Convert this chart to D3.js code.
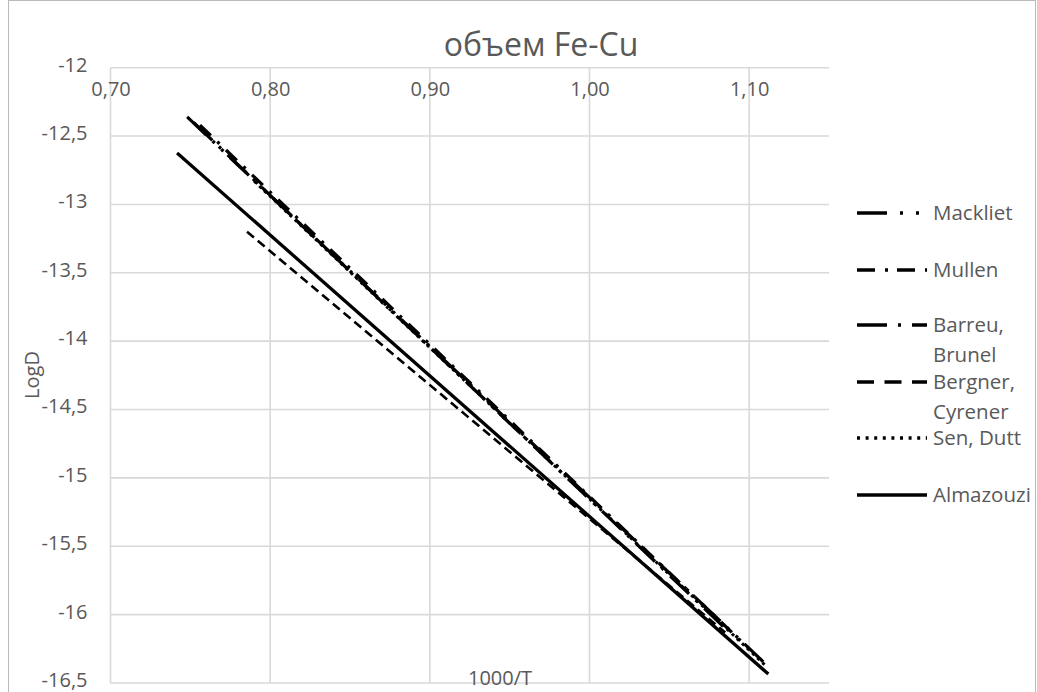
<!DOCTYPE html>
<html><head><meta charset="utf-8">
<script src="https://cdn.jsdelivr.net/npm/d3@7"></script>
<style>body{margin:0;background:#fff}svg{display:block}</style>
</head><body>
<svg id="c" width="1037" height="692"></svg>
<script>
// ---- data ----
const xTicks = [0.70, 0.80, 0.90, 1.00, 1.10];
const yTicks = [-12, -12.5, -13, -13.5, -14, -14.5, -15, -15.5, -16, -16.5];
const seriesNames = ["Mackliet", "Mullen", "Barreu, Brunel", "Bergner, Cyrener", "Sen, Dutt", "Almazouzi"];
const mackliet  = [[0.748, -12.36], [1.112, -16.38]];
const mullen    = [[0.756, -12.42], [1.100, -16.25]];
const barreu    = [[0.752, -12.40], [1.085, -16.10]];
const bergner   = [[0.7855, -13.20], [1.085, -16.13]];
const senDutt   = [[0.790, -12.83], [1.110, -16.37]];
const almazouzi = [[0.7417, -12.624], [1.112, -16.435]];
const seriesData = [mackliet, mullen, barreu, bergner, senDutt, almazouzi];

// ---- styles ----
const plotDash = ["26,9,3,9,3,9", "15,9,3,9", "26,9,3,9", "9,5", "3,4", null];
const legDash  = ["30,13,3,13,3,13", "18,10,3,9", "30,11,3,11", "17,10.5", "3,5.6", null];
const plotW = [3.2, 3.2, 3.2, 2.6, 3, 3.3];

const svg = d3.select("#c");
const grey = "#595959";
const font = "'Open Sans', sans-serif";

svg.append("rect").attr("x", 8.5).attr("y", 0.5).attr("width", 1027).attr("height", 720)
  .attr("fill", "none").attr("stroke", "#777").attr("stroke-dasharray", "1,1");

const x = d3.scaleLinear().domain([0.70, 1.15]).range([110.5, 829]);
const y = d3.scaleLinear().domain([-16.5, -12]).range([683, 67.7]);

const loc = d3.formatLocale({decimal: ",", thousands: " ", grouping: [3], currency: ["", ""], minus: "-"});
const fx = loc.format(".2f");
const fy = v => loc.format("~g")(v);

// gridlines
svg.append("g").selectAll("line").data(yTicks).join("line")
  .attr("x1", x(0.70)).attr("x2", x(1.15)).attr("y1", d => y(d)).attr("y2", d => y(d))
  .attr("stroke", "#d9d9d9").attr("stroke-width", 1.6);
svg.append("g").selectAll("line").data(xTicks).join("line")
  .attr("x1", d => x(d)).attr("x2", d => x(d)).attr("y1", y(-12)).attr("y2", y(-16.5))
  .attr("stroke", "#d9d9d9").attr("stroke-width", 1.6);

// axes (labels only)
const ay = svg.append("g").attr("transform", `translate(${x(0.70) - 4},-3)`)
  .call(d3.axisLeft(y).tickValues(yTicks).tickFormat(fy).tickSize(0).tickPadding(19));
const ax = svg.append("g").attr("transform", `translate(0,${y(-12) + 8})`)
  .call(d3.axisBottom(x).tickValues(xTicks).tickFormat(fx).tickSize(0).tickPadding(6));
[ay, ax].forEach(g => {
  g.select(".domain").remove();
  g.selectAll("text").attr("fill", grey).style("font-family", font).style("font-size", "20px");
});

// series lines
const line = d3.line().x(d => x(d[0])).y(d => y(d[1]));
svg.append("g").selectAll("path").data(seriesData).join("path")
  .attr("d", line).attr("fill", "none").attr("stroke", "#000")
  .attr("stroke-width", (d, i) => plotW[i])
  .attr("stroke-dasharray", (d, i) => plotDash[i]);

// titles
svg.append("text").attr("x", 541).attr("y", 56).attr("text-anchor", "middle")
  .attr("fill", grey).style("font-family", font).style("font-size", "32px").text("объем Fe-Cu");
svg.append("text").attr("transform", "translate(39,375) rotate(-90)").attr("text-anchor", "middle")
  .attr("fill", grey).style("font-family", font).style("font-size", "20px").text("LogD");
svg.append("text").attr("x", 500).attr("y", 685).attr("text-anchor", "middle")
  .attr("fill", grey).style("font-family", font).style("font-size", "20px").text("1000/T");

// legend
const legY = [213, 270, 325, 382, 438, 495];
const leg = svg.append("g");
seriesNames.forEach((name, i) => {
  leg.append("line").attr("x1", 857).attr("x2", 927).attr("y1", legY[i]).attr("y2", legY[i])
    .attr("stroke", "#000").attr("stroke-width", 3.6).attr("stroke-dasharray", legDash[i]);
  const parts = name.includes(",") && name.length > 10 ? [name.split(" ")[0], name.split(" ")[1]] : [name];
  const t = leg.append("text").attr("x", 933).attr("y", legY[i] + 7).attr("fill", grey)
    .style("font-family", font).style("font-size", "20.5px");
  parts.forEach((p, k) => t.append("tspan").attr("x", 933).attr("dy", k ? 30 : 0).text(p));
});
</script>
</body></html>
